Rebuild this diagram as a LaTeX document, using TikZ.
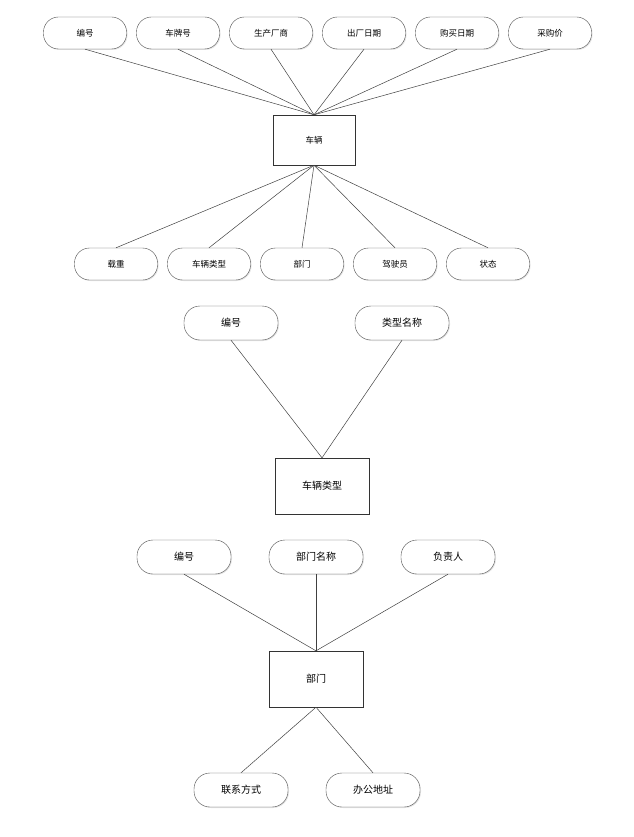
\documentclass[tikz,border=0pt]{standalone}
\usepackage{fontspec}
\setmainfont{Noto Sans CJK SC}
\usetikzlibrary{positioning,shadows}

\tikzset{
	attr/.style={draw=black!70, rounded corners=16pt, fill=white, minimum height=34pt,
		minimum width=94pt, font=\fontsize{10pt}{12pt}\selectfont,
		drop shadow={shadow xshift=1pt, shadow yshift=-1pt, fill=black!20}},
	attrs/.style={attr, minimum height=32pt, minimum width=83pt, rounded corners=15pt,
		font=\fontsize{8.5pt}{10pt}\selectfont},
	ent/.style={draw=black!80, fill=white, minimum width=94pt, minimum height=56pt,
		font=\fontsize{10pt}{12pt}\selectfont},
	link/.style={draw=black!75, line width=0.5pt}
}

\begin{document}
\begin{tikzpicture}[x=1pt, y=-1pt]
	\useasboundingbox (0,0) rectangle (633,837);
	% vehicle
	\node[ent, minimum width=82pt, minimum height=50pt, font=\fontsize{8.5pt}{10pt}\selectfont] (car) at (314,140) {车辆};
	\node[attrs] (cid)    at (85,33)  {编号};
	\node[attrs] (plate)  at (178,33) {车牌号};
	\node[attrs] (maker)  at (271,33) {生产厂商};
	\node[attrs] (mdate)  at (364,33) {出厂日期};
	\node[attrs] (bdate)  at (457,33) {购买日期};
	\node[attrs] (price)  at (550,33) {采购价};
	\node[attrs] (load)   at (116,264) {载重};
	\node[attrs] (ctype)  at (209,264) {车辆类型};
	\node[attrs] (cdept)  at (302,264) {部门};
	\node[attrs] (driver) at (395,264) {驾驶员};
	\node[attrs] (state)  at (488,264) {状态};
	\foreach \a in {cid,plate,maker,mdate,bdate,price}
		\draw[link] (\a.south) -- (car.north);
	\foreach \a in {load,ctype,cdept,driver,state}
		\draw[link] (car.south) -- (\a.north);

	% vehicle type
	\node[ent] (type) at (322,486) {车辆类型};
	\node[attr] (tid)   at (231,323) {编号};
	\node[attr] (tname) at (402,323) {类型名称};
	\foreach \a in {tid,tname}
		\draw[link] (\a.south) -- (type.north);

	% department
	\node[ent] (dept) at (316,679) {部门};
	\node[attr] (did)    at (184,557) {编号};
	\node[attr] (dname)  at (316,557) {部门名称};
	\node[attr] (dhead)  at (448,557) {负责人};
	\node[attr] (dphone) at (241,790) {联系方式};
	\node[attr] (daddr)  at (373,790) {办公地址};
	\foreach \a in {did,dname,dhead}
		\draw[link] (\a.south) -- (dept.north);
	\foreach \a in {dphone,daddr}
		\draw[link] (dept.south) -- (\a.north);
\end{tikzpicture}
\end{document}
